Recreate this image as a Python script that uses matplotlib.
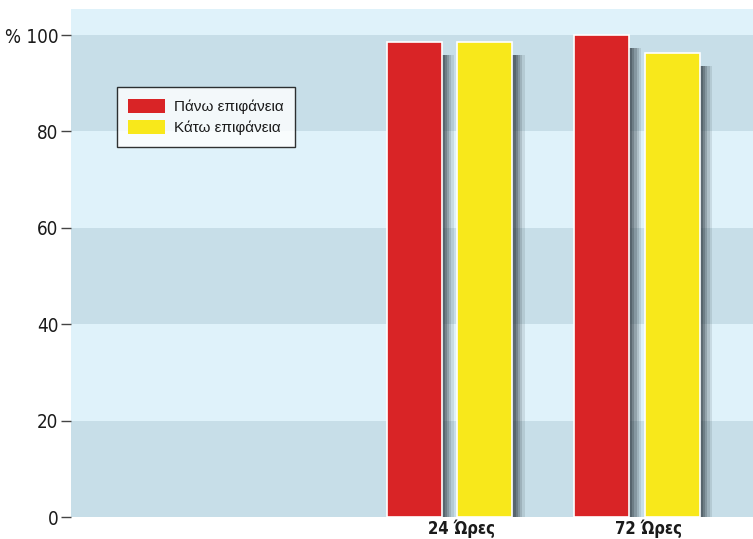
import numpy as np
import matplotlib.pyplot as plt
from matplotlib.font_manager import FontProperties
from matplotlib.transforms import ScaledTranslation

# data
categories = ['24 Ώρες', '72 Ώρες']
upper_surface = [98.5, 100.0]
lower_surface = [98.5, 96.3]
series_names = ['Πάνω επιφάνεια', 'Κάτω επιφάνεια']
y_ticks = [0, 20, 40, 60, 80, 100]
y_tick_labels = ['0', '20', '40', '60', '80', '% 100']

red = '#d92426'
yellow = '#f8e81b'
band_dark = '#c7dee8'
band_light = '#dff2fa'

plt.rcParams['font.family'] = ['DejaVu Sans']
plt.rcParams['font.stretch'] = 'condensed'

fig = plt.figure(figsize=(7.53, 5.39), dpi=100)
ax = fig.add_axes([0.0943, 0.0408, 0.9057, 0.9425])
ax.set_facecolor(band_light)

# horizontal bands
for lo in [0, 40, 80]:
    ax.axhspan(lo, lo + 20, color=band_dark, lw=0, zorder=0)

x = np.arange(len(categories))
w = 0.293
off = 0.189

def shadow(xc, h):
    # soft grey shadow on the right side of each bar
    drop = 2.7
    for i, a in enumerate([0.12, 0.16, 0.22, 0.28, 0.35]):
        ext = 0.065 - i * 0.012
        ax.bar(xc + ext / 2, h - drop, width=w + ext, bottom=0,
               color='#2f3a42', alpha=a, lw=0, zorder=1)

for xi, h in zip(x - off, upper_surface):
    shadow(xi, h)
for xi, h in zip(x + off, lower_surface):
    shadow(xi, h)

ax.bar(x - off, upper_surface, width=w, color=red, edgecolor='white',
       linewidth=1.2, zorder=2, label=series_names[0])
ax.bar(x + off, lower_surface, width=w, color=yellow, edgecolor='white',
       linewidth=1.2, zorder=2, label=series_names[1])

ax.set_xlim(-2.02, 1.62)
ax.set_ylim(0, 105.4)

ax.set_yticks(y_ticks)
ax.set_yticklabels(y_tick_labels, fontsize=13.5, color='#1a1a1a')
ax.tick_params(axis='y', length=7, width=1, color='#444444', pad=2)

ax.set_xticks(x)
ax.set_xticklabels(categories, fontsize=12, fontweight='bold', color='#1a1a1a')
ax.tick_params(axis='x', length=0, pad=2)
for lab in ax.get_xticklabels():
    lab.set_transform(lab.get_transform() + ScaledTranslation(0.12, 0, fig.dpi_scale_trans))

for s in ax.spines.values():
    s.set_visible(False)

leg_font = FontProperties(family='Liberation Sans', size=11, stretch='normal')
leg = ax.legend(loc='upper left', bbox_to_anchor=(0.067, 0.846),
                prop=leg_font,
                frameon=True, fancybox=False, edgecolor='black',
                handlelength=2.4, handleheight=1.1, borderpad=0.75,
                labelspacing=0.35, handletextpad=0.6, borderaxespad=0)
leg.get_frame().set_linewidth(1)
for hnd in leg.legend_handles:
    hnd.set_edgecolor('none')
for t in leg.get_texts():
    t.set_color('#1a1a1a')

fig.savefig('out.png', dpi=100)
